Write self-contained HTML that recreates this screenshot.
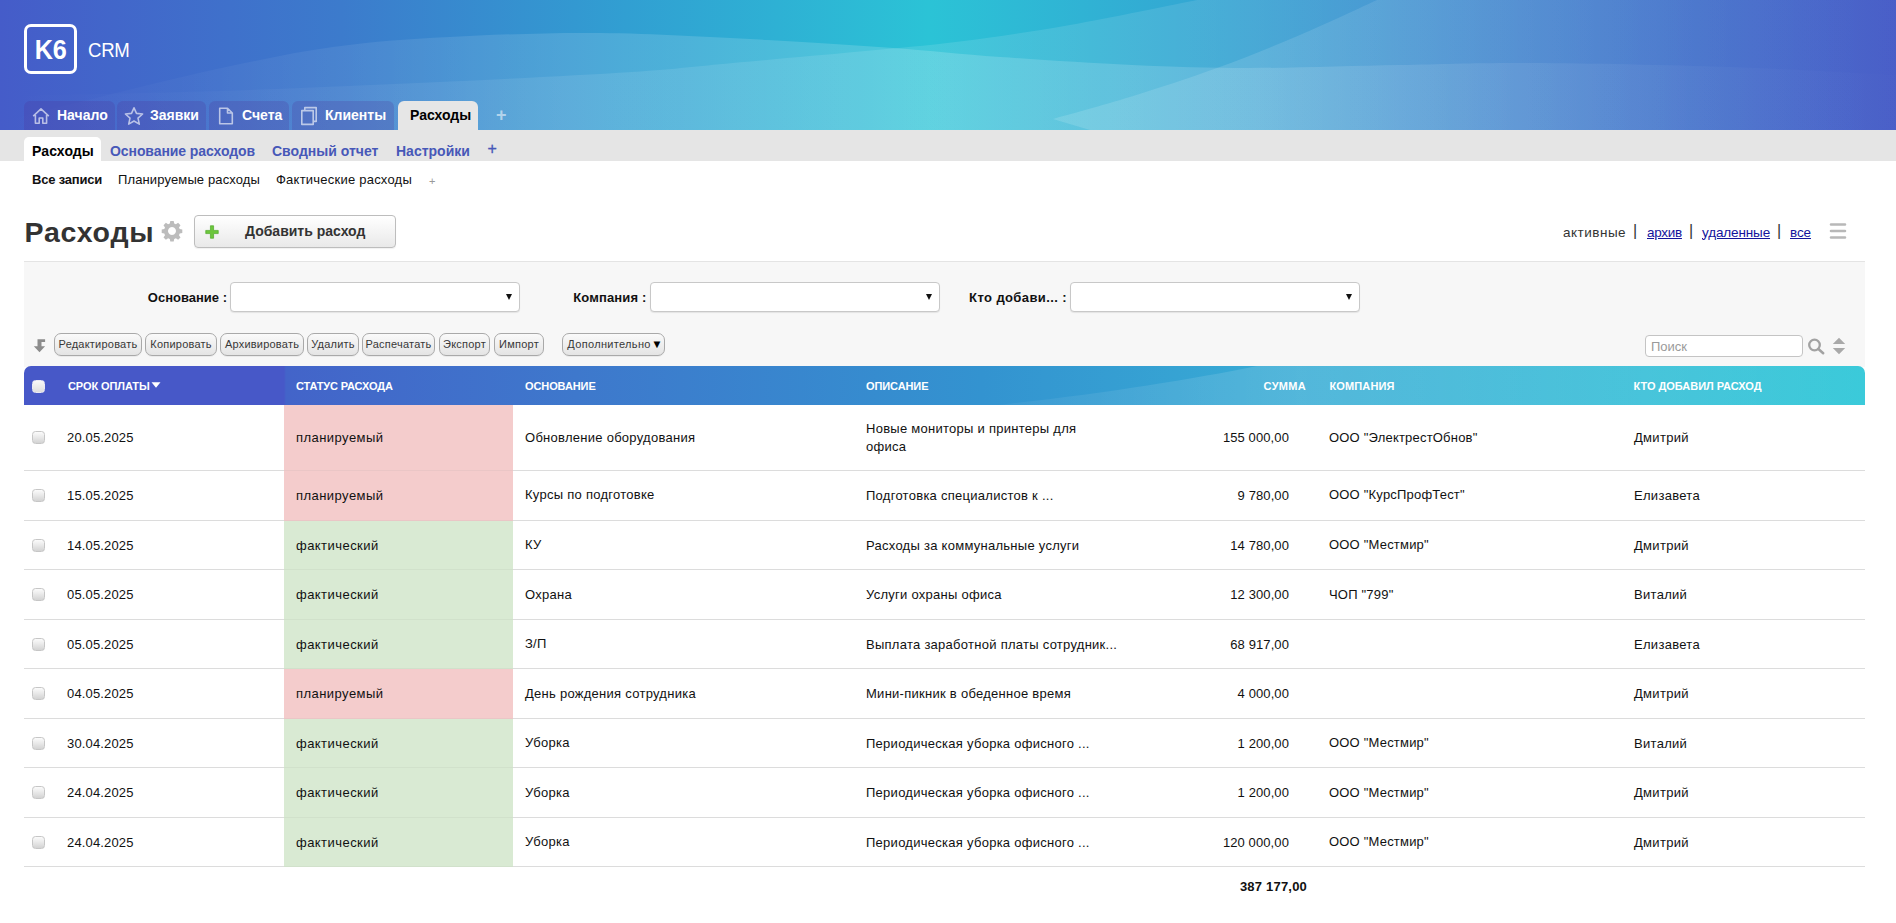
<!DOCTYPE html>
<html lang="ru">
<head>
<meta charset="utf-8">
<title>Расходы — K6 CRM</title>
<style>
*{box-sizing:border-box;margin:0;padding:0}
html,body{width:1896px;height:923px;overflow:hidden;background:#fff}
body{font-family:"Liberation Sans",sans-serif;font-size:13px;color:#111;position:relative}
a{color:#14149c;text-decoration:underline}
.abs{position:absolute}
/* header */
#hdr{position:absolute;left:0;top:0;width:1896px;height:130px;overflow:hidden;
 background:linear-gradient(90deg,#455cc9 0%,#3c7bcc 18%,#319fd2 33%,#2bc3d6 49%,#33a9d3 62%,#4083cd 80%,#485dc8 100%)}
#hdr svg.wave{position:absolute;left:0;top:0}
#logo{position:absolute;left:24px;top:24px;width:53px;height:50px;border:3px solid #fff;border-radius:7px;
 color:#fff;font-weight:700;font-size:28px;line-height:46px;text-align:center;letter-spacing:-0.3px}
#logo span{display:inline-block;transform:scaleX(0.9)}
#crm{position:absolute;left:87.5px;top:38px;color:#fff;font-size:19.8px;line-height:24px;letter-spacing:-0.3px;transform:scaleX(0.94);transform-origin:0 0}
.tab{position:absolute;top:101px;height:29px;border-radius:6px 6px 0 0;background:rgba(78,45,150,0.22);
 color:#fff;font-weight:700;font-size:14px;line-height:29px;white-space:nowrap}
.tab span{position:absolute;top:0}
.tab svg{position:absolute}
.tab.act{background:#e6e6e6;color:#000;top:101px;height:30px}
#graybar{position:absolute;left:0;top:130px;width:1896px;height:31px;background:#e5e5e5}
.stab{position:absolute;top:137px;height:24px;line-height:29px;font-weight:700;font-size:14px;color:#4758b8;white-space:nowrap}
.stab.act{background:#fff;color:#000;border-radius:5px 5px 0 0}
.ttab{position:absolute;top:172px;line-height:16px;font-size:13px;color:#111;white-space:nowrap}

#title{position:absolute;left:24.5px;top:214px;font-size:28.5px;font-weight:700;color:#333;line-height:36px;letter-spacing:0.75px}
#addbtn{position:absolute;left:194px;top:215px;width:202px;height:33px;border:1px solid #bdbdbd;border-radius:4px;
 background:linear-gradient(#fff,#f4f4f4 50%,#e9e9e9);font-weight:700;font-size:14px;color:#333;line-height:31px;box-shadow:0 1px 1px rgba(0,0,0,0.06)}
#addbtn span{position:absolute;left:50px;top:0;white-space:nowrap}
#filt{position:absolute;left:0;top:223.5px;font-size:13.5px;line-height:18px;color:#333;white-space:nowrap}
#filt span,#filt a{position:absolute;top:0}
#panel{position:absolute;left:24px;top:261px;width:1841px;height:106px;background:#f7f7f7;border-top:1px solid #e4e4e4}
.flabel{position:absolute;top:290px;font-weight:700;font-size:13px;line-height:16px;color:#111;white-space:nowrap;text-align:right}
.fsel{position:absolute;top:282px;width:290px;height:30px;border:1px solid #c8c8c8;border-radius:4px;background:#fff;box-shadow:0 1px 1px rgba(0,0,0,0.08)}
.fsel:after{content:"";position:absolute;right:7px;top:11px;border:3px solid transparent;border-top:6px solid #111;border-bottom:0}
.tb{position:absolute;top:333px;height:23px;border:1px solid #a9a9a9;border-radius:7px;background:linear-gradient(#fafafa,#e4e4e4);
 font-size:11px;line-height:21px;color:#383838;text-align:center;letter-spacing:0.22px;white-space:nowrap;box-shadow:0 1px 0 rgba(0,0,0,0.05)}
#search{position:absolute;left:1645px;top:335px;width:158px;height:22px;border:1px solid #c4c4c4;border-radius:4px;background:#fff;
 font-size:13px;line-height:21px;color:#9a9a9a;padding-left:5px}

#thead{position:absolute;left:24px;top:366px;width:1841px;height:39px;border-radius:7px 7px 0 0;overflow:hidden;
 background:linear-gradient(90deg,#4758c8 0,#4758c8 260px,#4364c9 262px,#3e78cc 30%,#3393d0 52%,#37a8d4 66%,#3bc0d8 88%,#37c9d9 100%)}
#thead svg{position:absolute;left:0;top:0}
.th{position:absolute;top:367px;height:39px;line-height:39px;color:#fff;font-weight:700;font-size:11px;white-space:nowrap;letter-spacing:-0.22px}
.cb{position:absolute;left:32px;width:13px;height:13px;border:1px solid #c6c6c6;border-radius:3.5px;background:linear-gradient(#fbfbfb,#ececec 40%,#d3d3d3)}
table#grid{position:absolute;left:24px;top:405px;width:1841px;border-collapse:separate;border-spacing:0;table-layout:fixed}
#grid td{border-bottom:1px solid #dcdcdc;padding:16px 12px 0;font-size:13px;letter-spacing:0.2px;color:#111;vertical-align:top;line-height:18px;white-space:nowrap;overflow:hidden}
#grid td.p{background:#f4cccc;border-bottom-color:#eac6c6}
#grid td.f{background:#d9ead3;border-bottom-color:#d1e1cb}
#grid td.sum{text-align:right;padding-right:30px}
#grid td.wrap{white-space:normal}
#grid td:nth-child(2){letter-spacing:0.15px;padding-left:11px}
#grid td:nth-child(3){letter-spacing:0.45px}
#grid td:nth-child(6){letter-spacing:0.1px;padding-right:29px}
#grid td:nth-child(8){letter-spacing:0.3px}
#grid td:nth-child(4),#grid td:nth-child(7){padding-top:15px}
#grid td:nth-child(4),#grid td:nth-child(5){letter-spacing:0.27px}
#grid td:nth-child(7){padding-left:11px}
#grid tr:nth-child(4) td,#grid tr:nth-child(6) td,#grid tr:nth-child(8) td{padding-top:16px}
#grid tr.r1 td{padding-top:24px}
#grid tr.r1 td:nth-child(4),#grid tr.r1 td:nth-child(7){padding-top:24px}
#grid tr.r1 td.wrap{padding-top:15px}
#total{position:absolute;left:1132px;top:878px;letter-spacing:0.2px;width:175px;text-align:right;font-weight:700;font-size:13px;line-height:18px}
</style>
</head>
<body>
<div id="hdr">
<svg class="wave" width="1896" height="130" viewBox="0 0 1896 130">
<defs>
<linearGradient id="ga" x1="0" x2="1896" y1="0" y2="0" gradientUnits="userSpaceOnUse">
<stop offset="0" stop-color="#fff" stop-opacity="0"/><stop offset="0.1" stop-color="#fff" stop-opacity="0.03"/><stop offset="0.3" stop-color="#fff" stop-opacity="0.13"/><stop offset="0.5" stop-color="#fff" stop-opacity="0.16"/><stop offset="0.66" stop-color="#fff" stop-opacity="0.135"/><stop offset="0.8" stop-color="#fff" stop-opacity="0.075"/><stop offset="0.9" stop-color="#fff" stop-opacity="0.03"/><stop offset="1" stop-color="#fff" stop-opacity="0.005"/>
</linearGradient>
</defs>
<path d="M0.0,122.0 C16.7,117.8 63.8,105.8 100.0,97.0 C136.2,88.2 178.2,77.3 217.0,69.0 C255.8,60.7 294.2,52.3 333.0,47.0 C371.8,41.7 405.5,39.3 450.0,37.0 C494.5,34.7 547.2,32.5 600.0,33.0 C652.8,33.5 718.2,37.5 767.0,40.0 C815.8,42.5 854.2,45.2 893.0,48.0 C931.8,50.8 960.2,54.2 1000.0,57.0 C1039.8,59.8 1090.3,63.2 1132.0,65.0 C1173.7,66.8 1205.3,68.0 1250.0,68.0 C1294.7,68.0 1353.3,65.8 1400.0,65.0 C1446.7,64.2 1475.0,62.7 1530.0,63.0 C1585.0,63.3 1669.0,65.0 1730.0,67.0 C1791.0,69.0 1868.3,73.7 1896.0,75.0 L1896,130 L0,130 Z" fill="url(#ga)"/>
<path d="M0.0,96.0 C36.7,95.2 146.7,93.3 220.0,91.0 C293.3,88.7 371.3,85.2 440.0,82.0 C508.7,78.8 583.2,75.2 632.0,72.0 C680.8,68.8 695.0,66.4 733.0,63.0 C771.0,59.6 822.2,55.2 860.0,51.6 C897.8,48.0 925.0,45.9 960.0,41.5 C995.0,37.1 1030.5,31.9 1070.0,25.0 C1109.5,18.1 1175.8,4.2 1197.0,0.0 L1896,0 L1896,130 L0,130 Z" fill="url(#ga)" opacity="0.7"/>
<path d="M1053.0,119.0 C1065.8,115.3 1102.7,105.5 1130.0,97.0 C1157.3,88.5 1188.7,78.3 1217.0,68.0 C1245.3,57.7 1273.3,46.3 1300.0,35.0 C1326.7,23.7 1364.2,5.8 1377.0,0.0 L1896,0 L1896,130 L1090,130 Z" fill="url(#ga)" opacity="0.9"/>
</svg>
<div id="logo"><span>K6</span></div>
<div id="crm">CRM</div>
<div class="tab" style="left:24px;width:91px"><svg style="left:8px;top:6px" width="18" height="18" viewBox="0 0 18 18" fill="none" stroke="#fff" stroke-opacity="0.62" stroke-width="1.6" stroke-linejoin="round"><path d="M1.2,9.2 L9,1.8 L16.8,9.2 M3.4,8 V16.3 H7.2 V11 H10.8 V16.3 H14.6 V8"/></svg><span style="left:33px">Начало</span></div>
<div class="tab" style="left:117px;width:89px"><svg style="left:7px;top:5px" width="20" height="20" viewBox="0 0 20 20" fill="none" stroke="#fff" stroke-opacity="0.62" stroke-width="1.6" stroke-linejoin="round"><path d="M10,1.8 L12.5,7.4 L18.6,8 L14,12.1 L15.3,18.1 L10,15 L4.7,18.1 L6,12.1 L1.4,8 L7.5,7.4 Z"/></svg><span style="left:33px">Заявки</span></div>
<div class="tab" style="left:209px;width:80px"><svg style="left:9px;top:6px" width="16" height="18" viewBox="0 0 16 18" fill="none" stroke="#fff" stroke-opacity="0.62" stroke-width="1.6" stroke-linejoin="round"><path d="M1.7,1.2 H9.5 L14.3,6 V16.8 H1.7 Z M9.5,1.2 V6 H14.3"/></svg><span style="left:33px">Счета</span></div>
<div class="tab" style="left:292px;width:102px"><svg style="left:8px;top:5px" width="18" height="20" viewBox="0 0 18 20" fill="none" stroke="#fff" stroke-opacity="0.62" stroke-width="1.6" stroke-linejoin="round"><path d="M4.8,4.6 V1.6 H16.2 V15.4 H13.2 M1.8,4.6 H13.2 V18.4 H1.8 Z"/></svg><span style="left:33px">Клиенты</span></div>
<div class="tab act" style="left:398px;width:80px"><span style="left:12px">Расходы</span></div>
<div class="abs" style="left:496px;top:105px;color:rgba(255,255,255,0.55);font-weight:700;font-size:18px;line-height:20px">+</div>
</div>
<div id="graybar"></div>
<div class="stab act" style="left:24px;width:77px;padding-left:8px;letter-spacing:0.1px">Расходы</div>
<div class="stab" style="left:110px;letter-spacing:-0.08px">Основание расходов</div>
<div class="stab" style="left:272px">Сводный отчет</div>
<div class="stab" style="left:396px">Настройки</div>
<div class="stab" style="left:487.5px;font-weight:400;font-size:16px;top:133.5px;-webkit-text-stroke:0.3px #4758b8">+</div>
<div class="ttab" style="left:32px;font-weight:700;letter-spacing:-0.2px">Все записи</div>
<div class="ttab" style="left:118px;letter-spacing:0.13px">Планируемые расходы</div>
<div class="ttab" style="left:276px;letter-spacing:0.23px">Фактические расходы</div>
<div class="ttab" style="left:429px;color:#999;font-size:11px;top:173px">+</div>

<div id="title">Расходы</div>
<svg class="abs" style="left:161px;top:220px" width="22" height="22" viewBox="0 0 22 22"><path fill="#bcbcbc" fill-rule="evenodd" d="M9.3,1 h3.4 l0.5,2.6 l1.7,0.7 l2.2,-1.5 l2.4,2.4 l-1.5,2.2 l0.7,1.7 l2.6,0.5 v3.4 l-2.6,0.5 l-0.7,1.7 l1.5,2.2 l-2.4,2.4 l-2.2,-1.5 l-1.7,0.7 l-0.5,2.6 h-3.4 l-0.5,-2.6 l-1.7,-0.7 l-2.2,1.5 l-2.4,-2.4 l1.5,-2.2 l-0.7,-1.7 l-2.6,-0.5 v-3.4 l2.6,-0.5 l0.7,-1.7 l-1.5,-2.2 l2.4,-2.4 l2.2,1.5 l1.7,-0.7 Z M11,7 a4,4 0 1 0 0.001,0 Z"/></svg>
<div id="addbtn"><svg class="abs" style="left:10px;top:8.5px" width="14" height="14" viewBox="0 0 15 15"><path d="M5.8,0.8 h3.4 v5 h5 v3.4 h-5 v5 h-3.4 v-5 h-5 v-3.4 h5 Z" fill="#6cc63c" stroke="#4aa822" stroke-width="0.7" stroke-linejoin="round"/></svg><span>Добавить расход</span></div>
<div id="filt"><span style="left:1563px;letter-spacing:0.5px">активные</span><span style="left:1633px;font-size:16px;top:-1.5px">|</span><a style="left:1647px;letter-spacing:-0.28px">архив</a><span style="left:1689px;font-size:16px;top:-1.5px">|</span><a style="left:1702px;letter-spacing:-0.13px">удаленные</a><span style="left:1777px;font-size:16px;top:-1.5px">|</span><a style="left:1790px;letter-spacing:-0.1px">все</a></div>
<svg class="abs" style="left:1829px;top:222px" width="18" height="18" viewBox="0 0 18 18"><path d="M2,2.5 h14 M2,9 h14 M2,15.5 h14" stroke="#b8b8b8" stroke-width="2.6" stroke-linecap="round"/></svg>

<div id="panel"></div>
<div class="flabel" style="left:100px;width:127px;letter-spacing:0">Основание :</div><div class="fsel" style="left:230px"></div>
<div class="flabel" style="left:520px;width:126.5px;letter-spacing:0.15px">Компания :</div><div class="fsel" style="left:650px"></div>
<div class="flabel" style="left:940px;width:127px;letter-spacing:0.4px">Кто добави... :</div><div class="fsel" style="left:1070px"></div>

<svg class="abs" style="left:32px;top:337px" width="16" height="16" viewBox="0 0 16 16"><path d="M5.5,2.3 h7.6 v2.7 h-3.6 v4.2 h3.6 l-5.6,6 l-5.7,-6 h3.7 Z" fill="#8c8c8c"/></svg>
<div class="tb" style="left:54px;width:88px">Редактировать</div>
<div class="tb" style="left:145px;width:72px">Копировать</div>
<div class="tb" style="left:220px;width:84px">Архивировать</div>
<div class="tb" style="left:307px;width:52px">Удалить</div>
<div class="tb" style="left:362px;width:73px">Распечатать</div>
<div class="tb" style="left:439px;width:51px">Экспорт</div>
<div class="tb" style="left:494px;width:50px">Импорт</div>
<div class="tb" style="left:562px;width:103px;letter-spacing:0.33px;padding-left:3px">Дополнительно<span style="color:#000;font-size:11.5px;margin-left:0.5px;letter-spacing:0">▼</span></div>
<div id="search">Поиск</div>
<svg class="abs" style="left:1807px;top:337px" width="18" height="18" viewBox="0 0 18 18"><circle cx="7.5" cy="8" r="5.3" fill="none" stroke="#a2a2a2" stroke-width="2.3"/><path d="M11.4,12 L16.2,16.2" stroke="#a2a2a2" stroke-width="2.5" stroke-linecap="round"/></svg>
<svg class="abs" style="left:1831px;top:337px" width="16" height="18" viewBox="0 0 16 18"><path d="M8,0.8 L14.2,7 H1.8 Z M8,17.2 L14.2,11 H1.8 Z" fill="#a9a9a9"/></svg>
<div id="thead"><svg width="1841" height="39" viewBox="0 0 1841 39"><defs><linearGradient id="gt" x1="900" x2="1841" y1="0" y2="0" gradientUnits="userSpaceOnUse"><stop offset="0" stop-color="#fff" stop-opacity="0.02"/><stop offset="0.4" stop-color="#fff" stop-opacity="0.14"/><stop offset="1" stop-color="#fff" stop-opacity="0.02"/></linearGradient></defs><path d="M975,39 C1075,28 1165,14 1233,0 L1841,0 L1841,39 Z" fill="url(#gt)"/></svg></div>
<div class="cb" style="top:380px;background:linear-gradient(#f8f8f8,#dedede);border-color:#e9e9f4"></div>
<div class="th" style="left:68px;letter-spacing:-0.08px">СРОК ОПЛАТЫ</div>
<svg class="abs" style="left:151px;top:382px" width="10" height="6" viewBox="0 0 10 6"><path d="M0.5,0.3 H9.5 L5,5.7 Z" fill="#fff"/></svg>
<div class="th" style="left:296px;letter-spacing:-0.12px">СТАТУС РАСХОДА</div>
<div class="th" style="left:525px;letter-spacing:-0.1px">ОСНОВАНИЕ</div>
<div class="th" style="left:866px;letter-spacing:-0.1px">ОПИСАНИЕ</div>
<div class="th" style="left:1131px;width:175px;text-align:right;letter-spacing:0.3px">СУММА</div>
<div class="th" style="left:1329.5px;letter-spacing:0.12px">КОМПАНИЯ</div>
<div class="th" style="left:1633.5px;letter-spacing:-0.02px">КТО ДОБАВИЛ РАСХОД</div>
<table id="grid"><colgroup><col style="width:32px"><col style="width:228px"><col style="width:229px"><col style="width:341px"><col style="width:276px"><col style="width:188px"><col style="width:304px"><col style="width:243px"></colgroup>
<tr class="r1" style="height:66px"><td></td><td>20.05.2025</td><td class="p">планируемый</td><td>Обновление оборудования</td><td class="wrap"><div style="width:225px">Новые мониторы и принтеры для офиса</div></td><td class="sum">155 000,00</td><td>ООО "ЭлектрестОбнов"</td><td>Дмитрий</td></tr>
<tr style="height:50px"><td></td><td>15.05.2025</td><td class="p">планируемый</td><td>Курсы по подготовке</td><td>Подготовка специалистов к ...</td><td class="sum">9 780,00</td><td>ООО "КурсПрофТест"</td><td>Елизавета</td></tr>
<tr style="height:49px"><td></td><td>14.05.2025</td><td class="f">фактический</td><td>КУ</td><td>Расходы за коммунальные услуги</td><td class="sum">14 780,00</td><td>ООО "Местмир"</td><td>Дмитрий</td></tr>
<tr style="height:50px"><td></td><td>05.05.2025</td><td class="f">фактический</td><td>Охрана</td><td>Услуги охраны офиса</td><td class="sum">12 300,00</td><td>ЧОП "799"</td><td>Виталий</td></tr>
<tr style="height:49px"><td></td><td>05.05.2025</td><td class="f">фактический</td><td>З/П</td><td>Выплата заработной платы сотрудник...</td><td class="sum">68 917,00</td><td></td><td>Елизавета</td></tr>
<tr style="height:50px"><td></td><td>04.05.2025</td><td class="p">планируемый</td><td>День рождения сотрудника</td><td>Мини-пикник в обеденное время</td><td class="sum">4 000,00</td><td></td><td>Дмитрий</td></tr>
<tr style="height:49px"><td></td><td>30.04.2025</td><td class="f">фактический</td><td>Уборка</td><td>Периодическая уборка офисного ...</td><td class="sum">1 200,00</td><td>ООО "Местмир"</td><td>Виталий</td></tr>
<tr style="height:50px"><td></td><td>24.04.2025</td><td class="f">фактический</td><td>Уборка</td><td>Периодическая уборка офисного ...</td><td class="sum">1 200,00</td><td>ООО "Местмир"</td><td>Дмитрий</td></tr>
<tr style="height:49px"><td></td><td>24.04.2025</td><td class="f">фактический</td><td>Уборка</td><td>Периодическая уборка офисного ...</td><td class="sum">120 000,00</td><td>ООО "Местмир"</td><td>Дмитрий</td></tr>
</table>
<div class="cb" style="top:431px"></div>
<div class="cb" style="top:489px"></div>
<div class="cb" style="top:539px"></div>
<div class="cb" style="top:588px"></div>
<div class="cb" style="top:638px"></div>
<div class="cb" style="top:687px"></div>
<div class="cb" style="top:737px"></div>
<div class="cb" style="top:786px"></div>
<div class="cb" style="top:836px"></div>
<div id="total">387 177,00</div>


</body>
</html>
